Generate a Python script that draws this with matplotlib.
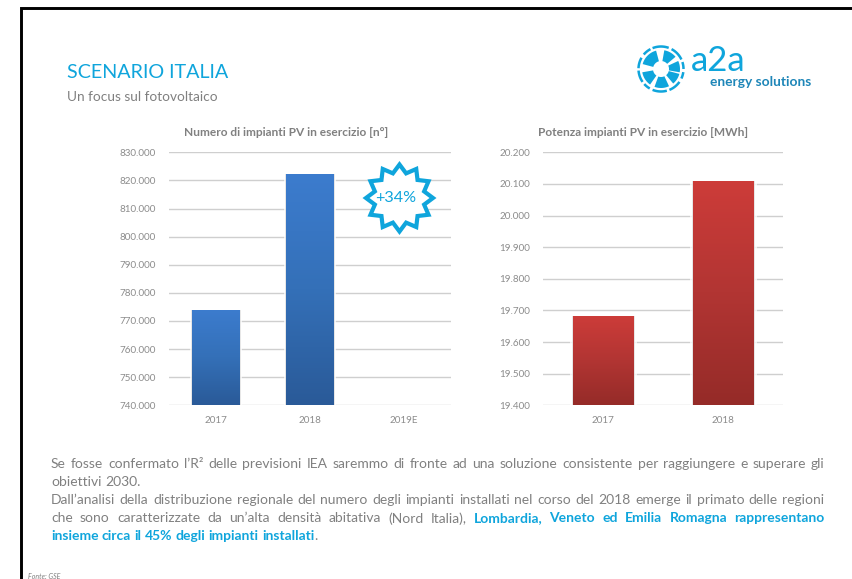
#!/usr/bin/env python3
import numpy as np
import matplotlib
matplotlib.use('Agg')
import matplotlib.pyplot as plt
from matplotlib.colors import LinearSegmentedColormap
from matplotlib.patches import Polygon
from matplotlib.ticker import FuncFormatter

plt.rcParams['font.family'] = ['Lato', 'DejaVu Sans']

years1 = ['2017', '2018', '2019E']
impianti = [773900, 822300, 0]
ticks1 = [740000, 750000, 760000, 770000, 780000, 790000, 800000, 810000, 820000, 830000]
title1 = 'Numero di impianti PV in esercizio [n°]'

years2 = ['2017', '2018']
potenza = [19682, 20109]
ticks2 = [19400, 19500, 19600, 19700, 19800, 19900, 20000, 20100, 20200]
title2 = 'Potenza impianti PV in esercizio [MWh]'

badge = '+34%'
slide_title = 'SCENARIO ITALIA'
slide_sub = 'Un focus sul fotovoltaico'
fonte = 'Fonte: GSE'

# (text, bold, justified)
body = [
    ("Se fosse confermato l’R² delle previsioni IEA saremmo di fronte ad una soluzione consistente per raggiungere e superare gli", None, True),
    ("obiettivi 2030.", None, False),
    ("Dall’analisi della distribuzione regionale del numero degli impianti installati nel corso del 2018 emerge il primato delle regioni", None, True),
    ("che sono caratterizzate da un’alta densità abitativa (Nord Italia),", "Lombardia, Veneto ed Emilia Romagna rappresentano", True),
    ("", "insieme circa il 45% degli impianti installati", False),
]

W, H = 852, 579
BLUE = '#0FA5DC'
GREY = '#808080'
TICK = '#8c8c8c'

fig = plt.figure(figsize=(W/100, H/100), dpi=100)
bg = fig.add_axes([0, 0, 1, 1])
bg.set_xlim(0, W)
bg.set_ylim(H, 0)
bg.axis('off')


def make_axes(x0, x1, y0, y1):
    return fig.add_axes([x0/W, 1-y1/H, (x1-x0)/W, (y1-y0)/H])


def bar_chart(ax, cats, vals, ticks, cmap, bw):
    x = np.arange(len(cats))
    ax.set_xlim(-0.5, len(cats)-0.5)
    ax.set_ylim(ticks[0], ticks[-1])
    ax.patch.set_alpha(0)
    for s in ax.spines.values():
        s.set_visible(False)
    ax.set_yticks(ticks)
    ax.set_xticks(x)
    ax.set_xticklabels(cats)
    ax.yaxis.set_major_formatter(FuncFormatter(lambda v, p: f'{v:,.0f}'.replace(',', '.')))
    ax.tick_params(length=0, labelsize=7.1, labelcolor=TICK, pad=9.5)
    ax.tick_params(axis='x', pad=7.5)
    ax.grid(axis='y', color='#cfcfcf', lw=1.0, zorder=1)
    ax.set_axisbelow(True)
    for i, v in enumerate(vals):
        if v <= ticks[0]:
            continue
        # soft halo round the bar
        ax.bar(i, v-ticks[0], bw*1.1, bottom=ticks[0], color='white', alpha=0.75, zorder=2)
        ax.bar(i, v-ticks[0], bw*1.03, bottom=ticks[0], color='#dddddd', alpha=0.7, zorder=2)
        b = ax.bar(i, v-ticks[0], bw, bottom=ticks[0], color='none', zorder=3)[0]
        im = ax.imshow(np.linspace(0, 1, 256).reshape(-1, 1), cmap=cmap, aspect='auto',
                       extent=(i-bw/2, i+bw/2, ticks[0], v), origin='upper', zorder=3)
        im.set_clip_path(b)
    ax.set_xlim(-0.5, len(cats)-0.5)
    ax.set_ylim(ticks[0], ticks[-1])


blues = LinearSegmentedColormap.from_list('b', ['#3C7CCE', '#3470B8', '#2A5A98'])
reds = LinearSegmentedColormap.from_list('r', ['#CD3C39', '#B23533', '#952B28'])

ax1 = make_axes(169, 451, 152.3, 405.3)
bar_chart(ax1, years1, impianti, ticks1, blues, 48/94)
ax2 = make_axes(543.3, 783.3, 152.3, 405.3)
bar_chart(ax2, years2, potenza, ticks2, reds, 61/120)

bg.text(286.5, 132, title1, ha='center', va='center', fontsize=8.6, fontweight='bold', color=GREY)
bg.text(643, 132, title2, ha='center', va='center', fontsize=8.6, fontweight='bold', color=GREY)

# slide frame
bg.plot([21, 21, W], [H, 8, 8], color='black', lw=2.1, solid_joinstyle='miter', clip_on=False)

bg.text(67, 72, slide_title, ha='left', va='center', fontsize=14.2, color=BLUE)
bg.text(67, 97, slide_sub, ha='left', va='center', fontsize=9.8, color=GREY)
bg.text(28, 576.5, fonte, ha='left', va='center', fontsize=5, style='italic', color=GREY)

# badge on top of the first chart
cx, cy = 399.5, 198
n = 12
ang = np.arange(2*n)*np.pi/n - np.pi/2
rad = np.where(np.arange(2*n) % 2 == 0, 33.5, 25.5)
star = np.column_stack([cx+rad*np.cos(ang), cy+rad*np.sin(ang)])
bg.set_zorder(5)
bg.add_patch(Polygon(star, closed=True, fc='white', ec=BLUE, lw=3.0, joinstyle='miter', zorder=6))
bg.text(cx-4, cy+0.5, badge, ha='center', va='center', fontsize=11.6, color=BLUE, zorder=7)

# logo: dashed ring and inner blades
lx, ly = 661, 69
for a0, a1 in [(25, 62), (70, 112), (118, 140), (150, 178), (184, 215), (222, 240), (248, 285), (292, 325), (335, 352), (0, 18)]:
    t = np.radians(np.linspace(a0, a1, 12))
    bg.plot(lx+22.5*np.cos(t), ly-22.5*np.sin(t), color=BLUE, lw=1.8, solid_capstyle='butt')
for a0, a1 in [(40, 80), (105, 165), (190, 235), (250, 295), (310, 345), (350, 385)]:
    t = np.radians(np.linspace(a0, a1, 12))
    xo, yo = lx+19*np.cos(t), ly-19*np.sin(t)
    xi, yi = lx+8*np.cos(t[::-1]), ly-8*np.sin(t[::-1])
    bg.add_patch(Polygon(np.column_stack([np.r_[xo, xi], np.r_[yo, yi]]), closed=True, fc=BLUE, ec='none'))
bg.text(691, 61, 'a2a', ha='left', va='center', fontsize=25, color=BLUE)
bg.text(710, 81.5, 'energy solutions', ha='left', va='center', fontsize=9.9, fontweight='bold', color='#1E86B8')

# body text, word by word so the lines can be justified
renderer = fig.canvas.get_renderer()
x_l, x_r = 51, 824.5
size = 10.0
line_y = [463, 481, 499.5, 517.5, 535.5]
for (plain, strong, just), y in zip(body, line_y):
    words = [(w, False) for w in plain.split()] + [(w, True) for w in (strong or '').split()]
    items = []
    for w, bold in words:
        t = bg.text(0, y, w, ha='left', va='center_baseline', fontsize=size,
                    fontweight='bold' if bold else 'normal', color=BLUE if bold else GREY)
        items.append((t, t.get_window_extent(renderer).width))
    total = sum(i[1] for i in items)
    gap = (x_r-x_l-total)/(len(items)-1) if just else size*0.33
    x = x_l
    for t, wd in items:
        t.set_x(x)
        x += wd+gap
    if strong and not just:
        bg.text(x-gap, y, '.', ha='left', va='center_baseline', fontsize=size, color=GREY)

fig.savefig('out.png', dpi=100)
plt.close(fig)
